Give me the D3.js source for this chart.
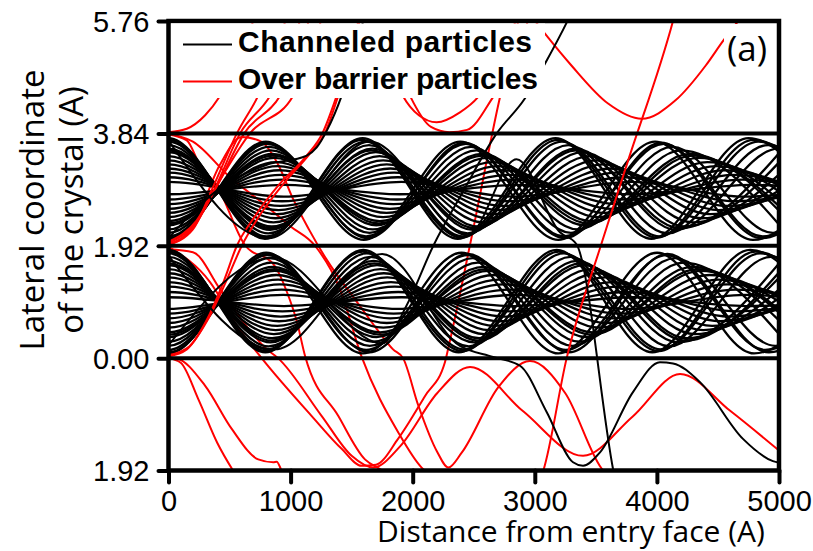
<!DOCTYPE html>
<html>
<head>
<meta charset="utf-8">
<script src="https://cdn.jsdelivr.net/npm/d3@7"></script>
<style>
  body { margin: 0; background: #fff; }
</style>
</head>
<body>
<script>
// axis ticks
const xTicks = [0, 1000, 2000, 3000, 4000, 5000];
const yTicks = [-1.92, 0, 1.92, 3.84, 5.76];
const yTickLabels = ["1.92", "0.00", "1.92", "3.84", "5.76"];
const planes = [0, 1.92, 3.84];

// channeled particles: [start y, opposite turning y, x of successive turning points...]
const upperChannel = [
  [3.76, 2.04, 790, 1590, 2370, 3170, 3955, 4750, 5540],
  [2.02, 3.70, 797, 1600, 2390, 3192, 3985, 4786, 5580],
  [3.70, 2.08, 804, 1614, 2410, 3222, 4020, 4830, 5630],
  [2.08, 3.66, 811, 1618, 2436, 3240, 4056, 4866, 5676],
  [3.64, 2.13, 818, 1642, 2450, 3274, 4088, 4910, 5720],
  [2.14, 3.61, 825, 1646, 2478, 3296, 4126, 4950, 5776],
  [3.58, 2.19, 832, 1670, 2492, 3334, 4160, 4996, 5824],
  [2.20, 3.55, 839, 1674, 2522, 3352, 4198, 5034],
  [3.52, 2.25, 846, 1698, 2534, 3392, 4228, 5080],
  [2.27, 3.49, 853, 1702, 2566, 3406, 4270, 5118],
  [3.45, 2.32, 860, 1728, 2576, 3448, 4296, 5164],
  [2.34, 3.42, 867, 1730, 2610, 3462, 4342, 5198],
  [3.38, 2.39, 874, 1758, 2618, 3504, 4366, 5248],
  [2.41, 3.35, 881, 1758, 2654, 3518, 4414, 5280],
  [3.31, 2.46, 888, 1788, 2660, 3562, 4436, 5332],
  [2.48, 3.28, 895, 1786, 2698, 3574, 4486, 5362],
  [3.24, 2.53, 902, 1818, 2702, 3620, 4506, 5416],
  [2.55, 3.21, 909, 1814, 2742, 3630, 4558, 5444],
  [3.17, 2.60, 916, 1848, 2744, 3678, 4576, 5500],
  [2.63, 3.13, 923, 1842, 2786, 3686, 4630, 5526],
  [3.09, 2.68, 930, 1878, 2786, 3736, 4646, 5584],
  [2.71, 3.05, 937, 1870, 2830, 3742, 4702, 5608],
  [3.01, 2.76, 944, 1908, 2828, 3794, 4716, 5668],
  [2.80, 2.96, 950, 1896, 2870, 3800, 4770, 5690],
  [3.73, 2.06, 800, 1584, 2400, 3188, 4000, 4790, 5600],
  [2.05, 3.68, 808, 1630, 2420, 3244, 4036, 4856, 5650],
  [3.55, 2.22, 836, 1660, 2512, 3338, 4190, 5020],
  [2.30, 3.46, 858, 1724, 2570, 3444, 4290, 5150]
];

const lowerChannel = [
  [1.85, 0.10, 793, 1596, 2376, 3180, 3962, 4764, 5548],
  [0.08, 1.80, 800, 1592, 2400, 3192, 4002, 4796, 5604],
  [1.79, 0.15, 807, 1624, 2418, 3236, 4030, 4846, 5640],
  [0.14, 1.76, 814, 1620, 2448, 3254, 4078, 4886, 5706],
  [1.73, 0.20, 821, 1652, 2460, 3292, 4102, 4934, 5744],
  [0.21, 1.71, 828, 1648, 2490, 3308, 4150, 4970, 5812],
  [1.66, 0.27, 835, 1680, 2502, 3348, 4172, 5018],
  [0.28, 1.63, 842, 1676, 2534, 3366, 4220, 5054],
  [1.59, 0.34, 849, 1708, 2544, 3406, 4244, 5102],
  [0.36, 1.56, 856, 1704, 2578, 3420, 4290, 5136],
  [1.52, 0.41, 863, 1736, 2586, 3462, 4312, 5186],
  [0.44, 1.49, 870, 1732, 2622, 3474, 4360, 5218],
  [1.45, 0.48, 877, 1764, 2628, 3518, 4380, 5270],
  [0.52, 1.42, 884, 1760, 2664, 3530, 4432, 5298],
  [1.38, 0.55, 891, 1792, 2670, 3576, 4452, 5356],
  [0.60, 1.34, 898, 1788, 2706, 3586, 4504, 5380],
  [1.30, 0.63, 905, 1822, 2712, 3634, 4522, 5440],
  [0.68, 1.26, 912, 1816, 2750, 3642, 4576, 5462],
  [1.22, 0.71, 919, 1852, 2754, 3692, 4592, 5524],
  [0.76, 1.17, 926, 1844, 2794, 3698, 4648, 5544],
  [1.13, 0.80, 933, 1882, 2796, 3750, 4662, 5608],
  [0.84, 1.08, 940, 1872, 2838, 3754, 4720, 5626],
  [1.04, 0.89, 946, 1910, 2836, 3806, 4730, 5690],
  [1.82, 0.12, 803, 1590, 2410, 3196, 4016, 4806, 5620],
  [0.10, 1.78, 818, 1644, 2450, 3280, 4086, 4918, 5726],
  [1.62, 0.30, 845, 1684, 2540, 3376, 4234, 5066],
  [0.40, 1.52, 866, 1736, 2596, 3468, 4332, 5202]
];

// over barrier particles, [x, y] points
const redUnder = [
  [[0,1.90],[340,1.30],[561,0.55],[763,0.0],[1173,-0.99],[1418,-1.55],[1582,-1.84],[1700,-1.82],[1880,-1.38],[2100,-0.65],[2264,-0.07],[2300,0.25],[2469,1.93],[2715,4.46],[2870,5.8]],
  [[0,1.86],[200,1.81],[422,1.18],[610,0.62],[806,0.15],[897,0.0],[1255,-0.99],[1500,-1.67],[1677,-1.87],[1900,-1.5],[2200,-0.6],[2470,-0.15],[2900,-0.9],[3395,-1.67],[3800,-1.0],[4190,-0.27],[4600,-0.9],[5000,-1.58]],
  [[0,3.82],[150,3.72],[258,3.29],[395,2.95],[620,1.95],[872,1.57],[970,1.13],[1052,0.62],[1118,0.04],[1391,-0.99],[1609,-1.73],[1718,-1.88],[1790,-1.96]],
  [[0,1.93],[200,2.25],[420,3.3],[600,3.78],[760,3.7],[900,3.3],[1020,2.72],[1150,2.2],[1290,1.7],[1568,0.89],[1705,0.5],[1839,0.15],[1921,0.0],[2046,-0.81],[2200,-1.6],[2292,-1.87],[2400,-1.62],[2700,-0.5],[2960,-0.05],[3250,-0.6],[3560,-1.92],[3600,-2.0]],
  [[0,3.83],[200,3.7],[500,3.1],[800,2.6],[1000,2.25],[1200,1.92],[1400,1.2],[1582,0.02],[1882,-1.27],[2073,-1.87],[2120,-1.96]]
];

const redOver = [
  [[0,3.86],[150,3.92],[300,4.15],[422,4.48],[600,5.2],[700,5.8]],
  [[0,1.94],[200,2.2],[360,2.9],[560,3.84],[734,4.48],[900,5.3],[960,5.8]],
  [[0,1.95],[210,2.25],[380,2.9],[586,3.84],[831,4.48],[1000,5.2],[1080,5.8]],
  [[0,1.97],[220,2.3],[400,2.95],[620,3.84],[913,4.48],[1100,5.3],[1150,5.8]],
  [[0,1.99],[230,2.35],[410,3.0],[667,3.84],[1020,4.48],[1200,5.3],[1250,5.8]],
  [[0,0.03],[150,0.15],[300,0.6],[450,1.3],[560,1.92],[700,2.4],[900,2.95],[1132,3.46],[1260,3.84],[1377,4.48],[1500,5.3],[1560,5.8]],
  [[0,0.05],[170,0.2],[320,0.65],[480,1.35],[600,1.92],[750,2.45],[950,3.0],[1160,3.5],[1280,3.84],[1390,4.48],[1510,5.3],[1570,5.8]],
  [[0,0.0],[100,-0.08],[244,-0.70],[400,-1.45],[540,-1.96]],
  [[0,0.0],[67,-0.01],[299,-0.47],[518,-1.21],[735,-1.73],[858,-1.78],[886,-1.77],[913,-1.86],[930,-1.96]],
  [[1700,5.5],[1830,4.9],[1920,4.48],[2050,4.15],[2196,4.03],[2387,4.2],[2535,4.46],[2700,5.0],[2850,5.8]],
  [[1800,5.3],[1900,4.85],[1978,4.48],[2150,3.95],[2300,3.86],[2445,3.9],[2658,4.46],[2800,4.95],[2950,5.8]],
  [[2950,5.9],[3085,5.54],[3300,5.0],[3600,4.35],[3876,4.09],[4150,4.4],[4400,5.0],[4542,5.42],[4700,5.85]],
  [[3040,-2.1],[3070,-1.92],[3261,0],[3545,1.95],[3768,3.4],[4132,5.76],[4150,5.9]]
];

// channeled particles that leave their channel
const blackEscaped = [
  [[0,2.05],[420,2.9],[800,3.3],[1132,3.46],[1214,3.6],[1300,3.9],[1418,4.48],[1600,5.8]],
  [[0,0.22],[860,1.72],[1750,0.25],[1950,0.9],[2169,1.92],[2400,2.8],[2688,3.84],[2920,4.44],[3083,5.03],[3263,5.74],[3300,5.9]],
  [[0,3.72],[820,2.05],[1650,3.7],[2450,2.1],[2850,3.4],[3206,2.15],[3340,1.95],[3643,-1.92],[3660,-2.1]],
  [[0,1.75],[870,0.15],[1750,1.78],[2387,0.21],[2658,0.02],[2879,-0.13],[3097,-0.92],[3313,-1.78],[3395,-1.84],[3534,-1.61],[3804,-0.58],[4025,-0.07],[4132,-0.09],[4353,-0.41],[4705,-1.38],[4950,-1.76],[5050,-1.8]]
];

const legendItems = [
  {label: "Channeled particles", color: "#000", len: 294},
  {label: "Over barrier particles", color: "#ff0000", len: 300}
];

const width = 813, height = 551;
const plotLeft = 168.5, plotRight = 779, plotTop = 21, plotBottom = 470.5;

const x = d3.scaleLinear().domain([0, 5000]).range([plotLeft, plotRight]);
const y = d3.scaleLinear().domain([-1.92, 5.76]).range([plotBottom, plotTop]);

const svg = d3.select("body").append("svg")
    .attr("width", width)
    .attr("height", height);

svg.append("clipPath").attr("id", "plot")
  .append("rect")
    .attr("x", plotLeft).attr("y", plotTop)
    .attr("width", plotRight - plotLeft).attr("height", plotBottom - plotTop);

const line = d3.line()
    .x(function(d) { return x(d[0]); })
    .y(function(d) { return y(d[1]); })
    .curve(d3.curveMonotoneX);

// turning points of a channeled particle; a mirrored point before the
// entry face keeps the slope flat at x = 0
function knots(p) {
  const pts = [[-p[2], p[1]], [0, p[0]]];
  for (let i = 2; i < p.length; i++) {
    pts.push([p[i], (i % 2 == 0) ? p[1] : p[0]]);
  }
  return pts;
}

const g = svg.append("g").attr("clip-path", "url(#plot)");

function drawCurves(data, color, w) {
  g.append("g")
    .selectAll("path")
    .data(data)
    .enter().append("path")
      .attr("d", line)
      .attr("fill", "none")
      .attr("stroke", color)
      .attr("stroke-width", w);
}

drawCurves(redUnder, "#ff0000", 2);
drawCurves(lowerChannel.map(knots), "#000", 2.3);
drawCurves(upperChannel.map(knots), "#000", 2.3);
drawCurves(redOver, "#ff0000", 2);
drawCurves(blackEscaped, "#000", 2);

// atomic planes
svg.append("g")
  .selectAll("line")
  .data(planes)
  .enter().append("line")
    .attr("x1", plotLeft).attr("x2", plotRight)
    .attr("y1", function(d) { return y(d); })
    .attr("y2", function(d) { return y(d); })
    .attr("stroke", "#000")
    .attr("stroke-width", 4);

// frame
svg.append("rect")
    .attr("x", plotLeft).attr("y", plotTop)
    .attr("width", plotRight - plotLeft).attr("height", plotBottom - plotTop)
    .attr("fill", "none")
    .attr("stroke", "#000")
    .attr("stroke-width", 4.5);

// axes
const yAxis = svg.append("g")
    .attr("transform", "translate(" + plotLeft + ",0)")
    .call(d3.axisLeft(y).tickValues(yTicks)
      .tickFormat(function(d, i) { return yTickLabels[i]; })
      .tickSize(10).tickPadding(9));

const xAxis = svg.append("g")
    .attr("transform", "translate(0," + plotBottom + ")")
    .call(d3.axisBottom(x).tickValues(xTicks)
      .tickFormat(d3.format("d"))
      .tickSize(12).tickPadding(8));

[yAxis, xAxis].forEach(function(a) {
  a.select(".domain").remove();
  a.selectAll(".tick line")
    .attr("stroke", "#000")
    .attr("stroke-width", 4)
    .attr("stroke-linecap", "round");
  a.selectAll(".tick text")
    .attr("fill", "#000")
    .style("font-family", "'Liberation Sans', Arial, sans-serif")
    .style("font-size", "29px");
});
yAxis.selectAll(".tick text").attr("dy", "0.36em");

// axis titles
svg.append("text")
    .attr("x", 571).attr("y", 542)
    .attr("text-anchor", "middle")
    .style("font-family", "'Open Sans', sans-serif")
    .style("font-size", "30px")
    .text("Distance from entry face (A)");

const yTitle = ["Lateral coordinate", "of the crystal (A)"];
svg.selectAll(".ytitle")
  .data(yTitle)
  .enter().append("text")
    .attr("class", "ytitle")
    .attr("transform", function(d, i) {
      return "translate(" + (44 + i * 39) + ",210) rotate(-90)";
    })
    .attr("text-anchor", "middle")
    .style("font-family", "'Open Sans', sans-serif")
    .style("font-size", "33px")
    .text(function(d) { return d; });

// legend
svg.append("rect")
    .attr("x", 171).attr("y", 23.5)
    .attr("width", 374).attr("height", 74.5)
    .attr("fill", "#fff");

const legend = svg.append("g")
  .selectAll("g")
  .data(legendItems)
  .enter().append("g")
    .attr("transform", function(d, i) { return "translate(0," + (51.5 + i * 37) + ")"; });

legend.append("line")
    .attr("x1", 183).attr("x2", 232)
    .attr("y1", -7).attr("y2", -7)
    .attr("stroke", function(d) { return d.color; })
    .attr("stroke-width", 2);

legend.append("text")
    .attr("x", 238).attr("y", 0)
    .attr("textLength", function(d) { return d.len; })
    .attr("lengthAdjust", "spacing")
    .style("font-family", "'Liberation Sans', Arial, sans-serif")
    .style("font-weight", "bold")
    .style("font-size", "30px")
    .text(function(d) { return d.label; });

// panel label
svg.append("rect")
    .attr("x", 724).attr("y", 24)
    .attr("width", 52).attr("height", 48)
    .attr("fill", "#fff");

svg.append("text")
    .attr("x", 727).attr("y", 61)
    .style("font-family", "'Open Sans', sans-serif")
    .style("font-size", "35px")
    .text("(a)");
</script>
</body>
</html>
